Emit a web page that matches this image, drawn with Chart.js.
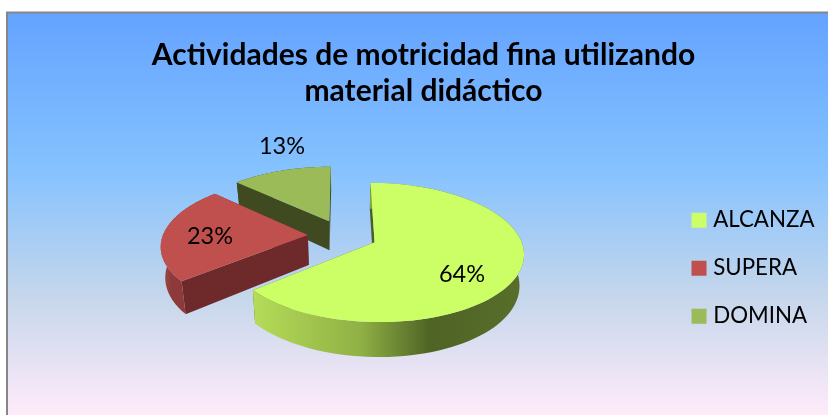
<!DOCTYPE html>
<html><head><meta charset="utf-8">
<style>html,body{margin:0;padding:0;background:#fff}#w{width:828px;height:415px;position:relative}</style>
<script src="https://cdn.jsdelivr.net/npm/chart.js@4"></script>
</head><body><div id="w"><canvas id="c" width="828" height="415"></canvas></div>
<script>
const titleLines = ['Actividades de motricidad fina utilizando', 'material didáctico'];
const categories = ['ALCANZA', 'SUPERA', 'DOMINA'];
const values = [64, 23, 13];
const faceColors = ['#CCFF66', '#C0504D', '#9BBB59'];
const radialWallColors = ['#4B5F22', '#6E2A2B', '#404A20'];
const outerWallStops = [
  [[0.0,'#B5DC58'],[0.4,'#8FB045'],[0.65,'#4F6425'],[1,'#586E2A']],
  [[0.0,'#A44C4A'],[0.2,'#8C3B3A'],[1,'#8C3B3A']],
  [[0,'#404A20'],[1,'#404A20']]
];
const labelAngles = [128.7, 268.7, 343.8];
const labelRadii = [0.696, 0.674, 1.516];

const fontName = 'Lato, Carlito, sans-serif';
const view = {cx:342.6, cy:235.5, A:145, B:66.2, k:0.143, explode:0.24,
              depth:30, depthGrow:4.5, shrink:0.975};

function project(u, v, low) {
  const s = 1/(1 - view.k*v);
  let X = view.A*u*s, Y = view.B*v*s;
  if (low) { X *= view.shrink; Y += view.depth + view.depthGrow*v; }
  return [view.cx + X, view.cy + Y];
}
function sliceOffset(el) {
  const m = (el.startAngle + el.endAngle)/2;
  return [view.explode*Math.cos(m), view.explode*Math.sin(m)];
}
function arcPoints(el, low, reverse) {
  const [ou, ov] = sliceOffset(el);
  const n = 90, pts = [];
  for (let i = 0; i <= n; i++) {
    const t = el.startAngle + (el.endAngle - el.startAngle)*i/n;
    pts.push(project(ou + Math.cos(t), ov + Math.sin(t), low));
  }
  return reverse ? pts.reverse() : pts;
}
function fillPoly(ctx, pts, fill) {
  ctx.beginPath();
  pts.forEach((p,i)=> i ? ctx.lineTo(p[0],p[1]) : ctx.moveTo(p[0],p[1]));
  ctx.closePath();
  ctx.fillStyle = fill; ctx.fill();
}
const framePlugin = {
  id:'frame',
  beforeDraw(chart){
    const ctx = chart.ctx, W = chart.width, H = chart.height;
    const x0 = 7, y0 = 12.5;
    const g = ctx.createLinearGradient(0,y0,0,H);
    g.addColorStop(0,'#64A3FF'); g.addColorStop(.39,'#85C2FF');
    g.addColorStop(.70,'#C4D6EB'); g.addColorStop(1,'#FFEBFA');
    ctx.save();
    ctx.fillStyle = '#fff'; ctx.fillRect(0,0,W,H);
    ctx.fillStyle = g; ctx.fillRect(x0,y0,W-x0,H-y0);
    ctx.strokeStyle = '#868686'; ctx.lineWidth = 2;
    ctx.beginPath(); ctx.moveTo(x0,H); ctx.lineTo(x0,y0); ctx.lineTo(W,y0); ctx.stroke();
    ctx.restore();
  }
};
const pie3d = {
  id:'pie3d',
  beforeDatasetsDraw(chart){
    const ctx = chart.ctx, arcs = chart.getDatasetMeta(0).data;
    ctx.save();
    [2,1,0].forEach(i=>{
      const el = arcs[i], [ou,ov] = sliceOffset(el);
      const top = arcPoints(el,false,false), low = arcPoints(el,true,true);
      const apexT = project(ou,ov,false), apexL = project(ou,ov,true);
      const xs = top.map(p=>p[0]);
      const g = ctx.createLinearGradient(Math.min(...xs),0,Math.max(...xs),0);
      outerWallStops[i].forEach(s=>g.addColorStop(s[0],s[1]));
      fillPoly(ctx, [apexT, top[0], low[low.length-1], apexL], radialWallColors[i]);
      fillPoly(ctx, [apexT, top[top.length-1], low[0], apexL], radialWallColors[i]);
      fillPoly(ctx, top.concat(low), g);
      fillPoly(ctx, [apexT].concat(top), faceColors[i]);
    });
    ctx.restore();
    return false;
  },
  afterDraw(chart){
    const ctx = chart.ctx, arcs = chart.getDatasetMeta(0).data;
    const total = values.reduce((a,b)=>a+b,0);
    ctx.save();
    ctx.font = '23.5px '+fontName; ctx.fillStyle = '#000';
    ctx.textAlign = 'center'; ctx.textBaseline = 'middle';
    arcs.forEach((el,i)=>{
      const [ou,ov] = sliceOffset(el);
      const a = (labelAngles[i]-90)*Math.PI/180;
      const [x,y] = project(ou + labelRadii[i]*Math.cos(a), ov + labelRadii[i]*Math.sin(a), false);
      ctx.fillText(Math.round(values[i]/total*100)+'%', x, y);
    });
    ctx.restore();
  }
};
new Chart(document.getElementById('c'), {
  type:'pie',
  data:{labels:categories, datasets:[{data:values, backgroundColor:faceColors, borderWidth:0}]},
  plugins:[framePlugin, pie3d],
  options:{
    responsive:false, animation:false, rotation:0,
    layout:{padding:{top:37.5,right:3.5,left:22.5,bottom:0}},
    plugins:{
      tooltip:{enabled:false},
      title:{display:true, text:titleLines, color:'#000', align:'center',
             font:{family:fontName, size:30, weight:'bold'}, lineHeight:1.23, padding:{top:0,bottom:12}},
      legend:{position:'right', align:'center', fullSize:false,
        labels:{color:'#000', font:{family:fontName, size:22.3}, usePointStyle:true, pointStyle:'rect',
                boxWidth:6, boxHeight:15, padding:25.7}}
    }
  }
});
</script></body></html>
